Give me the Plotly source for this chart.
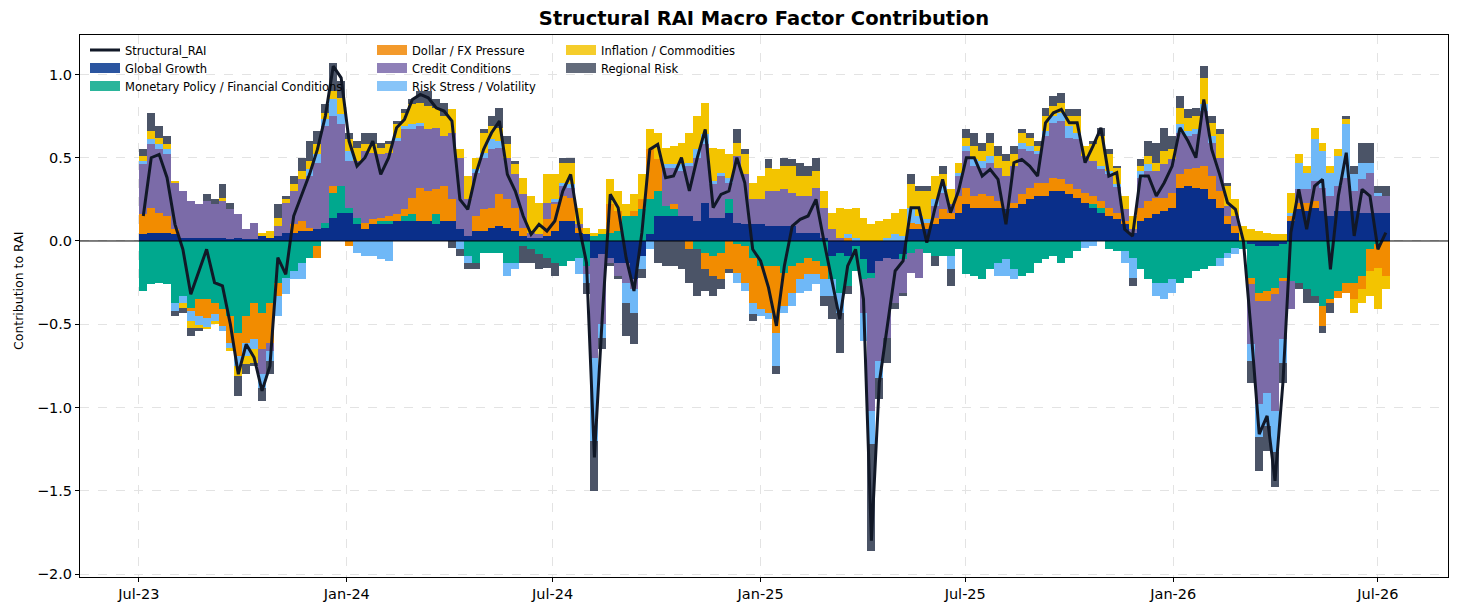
import pandas as pd
import plotly.graph_objects as go

# ---------------- data (weekly) ----------------
dates = pd.date_range("2023-07-05", periods=158, freq="7D")

global_growth = [
    .04,.05,.05,.05,.04,.02,.02,.02,.02,.02,
    .02,.01,.02,.01,.01,.03,.02,.03,.05,.05,
    .06,.06,.07,.08,.14,.17,.17,.10,.07,.10,
    .10,.10,.12,.12,.12,.12,.12,.10,.12,.12,
    .07,.03,.06,.06,.08,.09,.08,.06,.03,.02,
    .02,.03,.06,.12,.12,.05,.04,-.10,-.08,-.10,
    -.13,-.13,-.23,-.09,.04,.15,.15,.15,.15,.15,
    .12,.23,.14,.14,.17,.11,.10,.10,.10,.09,
    .09,.09,.09,.05,.05,.05,.02,-.09,-.07,-.09,
    -.03,-.11,-.19,-.12,-.10,-.11,-.08,.07,.07,.07,
    .10,.13,.13,.17,.22,.20,.20,.20,.20,.19,
    .20,.22,.25,.27,.27,.30,.30,.28,.26,.23,
    .20,.17,.15,.13,.10,.05,.12,.14,.16,.18,
    .20,.32,.33,.32,.31,.25,.20,.10,.05,.00,
    -.02,-.03,-.03,-.03,-.02,.12,.19,.18,.20,.18,
    .15,.18,.18,.18,.17,.17,.17,.17]

monetary_policy = [
    -.30,-.26,-.25,-.26,-.37,-.33,-.40,-.35,-.35,-.37,
    -.41,-.45,-.55,-.45,-.37,-.43,-.37,-.25,-.22,-.18,
    -.13,-.10,-.03,.03,.15,.16,.03,.04,.00,.00,
    .02,.02,.00,.03,.04,.00,.00,.06,.00,.00,
    .00,-.09,-.13,-.07,-.07,-.07,-.13,-.13,-.03,-.05,
    -.08,-.10,-.13,-.15,-.12,-.10,-.15,.03,.04,.05,
    .06,.15,.15,.19,.21,.15,.06,.04,.00,.00,
    -.05,-.07,-.09,-.07,.08,-.02,-.03,-.10,-.15,-.15,
    -.15,-.19,-.15,-.13,-.10,-.12,-.15,-.14,-.24,-.18,
    -.15,-.12,-.03,.00,.00,.00,-.03,-.07,-.05,-.07,
    -.09,-.09,-.09,-.05,-.20,-.21,-.23,-.17,-.13,-.11,
    -.17,-.21,-.19,-.13,-.11,-.09,-.13,-.10,-.06,.00,
    .02,.03,-.05,-.06,-.06,-.10,-.17,-.23,-.25,-.25,
    -.23,-.25,-.22,-.18,-.17,-.15,-.10,-.07,-.04,-.05,
    -.20,-.28,-.27,-.25,-.20,-.24,-.25,-.29,-.33,-.39,
    -.35,-.30,-.25,-.25,-.21,-.05,-.02,.00]

dollar_fx = [
    .12,.15,.12,.10,.03,.00,-.02,-.10,-.11,-.07,
    -.10,-.16,-.14,-.16,-.22,-.22,-.24,-.08,.00,.05,
    .06,.02,-.07,.00,.04,.00,-.03,.00,.04,.03,
    .02,.03,.04,.04,.10,.20,.18,.15,.21,.13,
    .00,.00,.09,.13,.12,.19,.17,.14,.05,.00,
    .00,.10,.16,.15,.14,.03,.00,.00,.00,.17,
    .12,.00,.03,.06,.30,.19,.00,.03,.00,-.05,
    .00,-.10,-.12,-.16,-.17,-.17,-.22,-.27,-.26,-.28,
    -.40,-.20,-.16,-.10,-.10,-.08,-.08,.00,.00,.02,
    .00,.00,.00,.00,.00,.00,.00,.04,.03,.04,
    .04,.06,.04,.10,.10,.07,.08,.07,.04,.00,
    .03,.06,.07,.08,.08,.08,.07,.06,.05,.06,
    .05,.04,.05,.04,.02,.00,.08,.10,.10,.08,
    .09,.08,.10,.12,.14,.14,.10,.05,.04,.00,
    -.04,-.05,-.06,-.04,-.02,.03,.04,.05,.04,-.12,
    -.02,-.04,-.06,-.10,-.08,-.13,-.14,-.21]

credit_conditions = [
    .30,.38,.38,.37,.28,.28,.22,.20,.22,.20,
    .22,.18,.14,.06,.10,-.15,-.05,.06,.18,.20,
    .25,.31,.40,.58,.42,.37,.28,.34,.43,.40,
    .38,.38,.44,.48,.41,.37,.37,.37,.30,.40,
    .43,.22,.26,.31,.35,.28,.25,.20,.20,.03,
    .02,.10,.02,.06,.06,.02,-.05,-.60,-.42,-.03,
    -.08,-.12,-.06,.00,.00,.00,.23,.22,.27,.30,
    .38,.35,.20,.25,.10,.40,.30,.15,.15,.21,
    .21,.22,.20,.22,.22,.27,.18,.07,.02,.00,
    .00,-.20,-.80,-.60,-.48,-.26,-.20,-.12,-.17,.00,
    .07,.10,.05,.12,.22,.18,.16,.20,.20,.20,
    .22,.27,.22,.17,.28,.33,.35,.28,.30,.22,
    .21,.19,.20,.16,.07,.02,.18,.18,.16,.20,
    .20,.25,.20,.20,.33,.20,.20,.06,.06,.00,
    -.36,-.62,-.55,-.70,-.35,-.17,.08,.08,.12,.14,
    .12,.15,.20,.12,.20,.24,.10,.10]

risk_stress = [
    .02,.03,.03,.03,-.05,-.04,-.06,-.06,-.06,-.04,
    -.03,-.03,-.06,-.08,-.06,-.08,-.06,-.12,-.10,-.05,
    -.10,.04,.05,.04,.10,.06,.06,-.07,-.09,-.09,
    -.11,-.12,.02,.02,.03,.02,.00,.00,.00,.00,
    -.05,-.04,.02,.03,.06,.04,-.08,-.04,.00,.00,
    .00,.00,.01,.02,.02,-.10,-.05,-.50,-.08,.00,
    .00,-.12,-.14,-.08,-.05,.00,.02,.02,.04,.02,
    .05,.06,.02,.02,.03,-.06,-.05,-.07,-.04,-.04,
    -.20,-.04,-.08,-.08,-.10,-.06,-.10,-.10,-.12,.02,
    .02,-.17,-.20,-.10,.02,.04,.03,.09,.05,.02,
    .04,.04,-.08,.02,.03,.04,.04,.04,-.08,-.10,
    -.06,.04,.03,.02,.03,.04,.05,.07,.04,-.04,
    -.03,.02,.02,.01,-.07,-.12,.04,.04,-.08,-.10,
    -.08,.05,.03,.03,.04,.04,-.05,-.03,-.04,.00,
    -.10,-.20,-.20,-.25,-.14,.02,.16,.10,.25,.22,
    .14,.18,.32,.10,.10,.06,.02,.00]

inflation = [
    .03,.05,.04,.03,.01,-.03,-.04,-.01,-.01,-.02,
    .02,-.02,-.06,-.05,-.08,.02,.04,.05,.02,.04,
    .05,.05,.06,.04,.05,.10,.07,.08,.04,.05,
    .04,.05,.08,.08,.12,.12,.14,.12,.12,.14,
    .05,.14,.07,.12,.08,.08,.08,.06,.10,.22,
    .19,.17,.15,.12,.13,.10,.04,.02,.03,.15,
    .12,.07,.10,.15,.12,.16,.10,.11,.13,.18,
    .20,.19,.20,.14,.14,.08,.12,.10,.14,.14,
    .13,.14,.16,.12,.12,.10,.10,.10,.18,.15,
    .18,.14,.10,.12,.11,.13,.16,.14,.15,.17,
    .14,.07,.09,.06,.05,.08,.06,.08,.07,.09,
    .07,.06,.05,.03,.09,.06,.06,.06,.10,.06,
    .10,.18,.10,.10,.08,.08,.03,.05,.05,.08,
    .06,.10,.08,.08,.16,.08,.14,.12,.10,.09,
    .07,.06,.05,.04,.04,.12,.05,.04,.07,.05,
    .04,.04,.03,-.08,-.08,-.15,-.25,-.08]

regional_risk = [
    .04,.11,.07,.05,-.03,-.03,-.05,-.02,.04,.03,
    .08,.04,-.12,-.06,-.02,-.08,-.08,.08,.02,.05,
    .08,.12,.08,.05,.17,.10,.04,.04,.07,.07,
    .03,.02,.02,.02,.03,.07,.09,.05,.08,-.04,
    -.04,-.04,-.04,.02,.06,.12,.05,.02,-.10,-.08,
    -.09,-.06,-.08,.03,.03,.00,-.07,-.30,-.07,-.02,
    -.02,-.20,-.19,-.05,.00,-.13,-.15,-.15,-.17,-.20,
    -.28,-.13,-.12,-.06,-.02,.08,.03,-.04,.00,.05,
    -.05,.05,.04,.08,.06,.08,-.06,-.14,-.24,-.05,
    .00,.00,-.64,-.13,-.15,-.04,-.02,.06,.03,.03,
    -.06,.05,-.10,.00,.05,.08,.05,.06,.06,.04,
    .05,.02,.03,.03,.05,.06,.06,.04,.04,.00,
    .02,.05,.03,.01,.00,-.05,.04,.09,.12,.14,
    .08,.07,.05,.05,.07,.04,.03,.02,.00,.00,
    -.13,-.20,-.15,-.21,-.12,.00,-.04,-.08,-.04,-.04,
    -.06,.00,.02,.05,.12,.12,.04,.06]

structural_rai = [
    .15,.50,.52,.38,.10,-.05,-.32,-.18,-.05,-.25,
    -.27,-.50,-.80,-.62,-.70,-.90,-.75,-.10,-.20,.15,
    .28,.40,.55,.75,1.05,.98,.60,.45,.50,.60,
    .40,.50,.68,.73,.85,.88,.86,.80,.78,.72,
    .25,.19,.40,.55,.65,.72,.40,.30,.15,.04,
    .10,.06,.12,.30,.40,.10,-.13,-1.30,-.45,.28,
    .20,-.10,-.30,.05,.55,.58,.38,.39,.50,.30,
    .50,.67,.20,.28,.30,.50,.35,-.05,-.12,-.28,
    -.51,-.15,.09,.13,.15,.25,.00,-.23,-.47,-.15,
    -.05,-.35,-1.80,-.85,-.50,-.18,-.12,.20,.20,-.01,
    .19,.37,.17,.30,.50,.50,.39,.43,.37,.10,
    .47,.49,.45,.39,.71,.77,.79,.71,.71,.47,
    .57,.68,.39,.41,.07,.03,.39,.39,.27,.35,
    .45,.68,.60,.50,.85,.55,.40,.23,.19,.00,
    -.55,-1.16,-1.05,-1.44,-.85,.05,.31,.07,.33,.37,
    -.17,.27,.53,.03,.31,.27,-.05,.05]

factor_names = ["Global Growth", "Monetary Policy / Financial Conditions",
                "Dollar / FX Pressure", "Credit Conditions",
                "Risk Stress / Volatility", "Inflation / Commodities", "Regional Risk"]
factor_values = [global_growth, monetary_policy, dollar_fx, credit_conditions,
                 risk_stress, inflation, regional_risk]
factor_colors = ["#0a2f8a", "#00a88e", "#f28c00", "#7b6ba8",
                 "#6fb8f7", "#f3c400", "#4b5467"]
legend_colors = ["#2b55a0", "#2bb59b", "#f39a2c", "#8f80b8",
                 "#87c4f8", "#f5cd2b", "#636b7b"]

tick_vals = ["2023-07-01", "2024-01-01", "2024-07-01", "2025-01-01",
             "2025-07-01", "2026-01-01", "2026-07-01"]
tick_text = ["Jul-23", "Jan-24", "Jul-24", "Jan-25", "Jul-25", "Jan-26", "Jul-26"]

# ---------------- figure ----------------
FONT = "DejaVu Sans"
fig = go.Figure()

week_ms = 7 * 24 * 3600 * 1000
for name, vals, col in zip(factor_names, factor_values, factor_colors):
    fig.add_trace(go.Bar(
        x=dates, y=vals, name=name, width=week_ms,
        marker=dict(color=col, line=dict(width=0)),
        showlegend=False,
    ))

fig.add_trace(go.Scatter(
    x=dates, y=structural_rai, name="Structural_RAI", mode="lines",
    line=dict(color="#111827", width=3), legend="legend",
))

# legend entries (one legend box per entry, laid out like a 3-column legend)
col_x = [85, 372, 561]          # pixel left of each legend column
row_top = [35.5, 53.5, 71.5]    # pixel top of each legend row
slots = [(1, 0), (2, 0), (0, 1), (1, 1), (2, 1), (0, 2), (1, 2)]
leg_layout = {}
leg_common = dict(bgcolor="rgba(0,0,0,0)", borderwidth=0,
                  font=dict(family=FONT, size=11.5, color="#000"),
                  orientation="v", xanchor="left", yanchor="top")
leg_layout["legend"] = dict(x=(col_x[0] - 80) / 1368, y=1 - (row_top[0] - 35) / 542, **leg_common)
for k, (name, col, (r, c)) in enumerate(zip(factor_names, legend_colors, slots)):
    lg = "legend%d" % (k + 2)
    fig.add_trace(go.Scatter(
        x=[None], y=[None], name=name, mode="lines",
        line=dict(color=col, width=10), legend=lg, showlegend=True,
    ))
    leg_layout[lg] = dict(x=(col_x[c] - 80) / 1368, y=1 - (row_top[r] - 35) / 542, **leg_common)

fig.update_layout(
    barmode="relative",
    bargap=0,
    width=1459, height=614,
    margin=dict(l=80, r=11, t=35, b=37),
    paper_bgcolor="white", plot_bgcolor="white",
    font=dict(family=FONT, size=14.5, color="#000"),
    title=dict(text="<b>Structural RAI Macro Factor Contribution</b>",
               x=764 / 1459, xanchor="center", y=1 - 18 / 614, yanchor="middle",
               font=dict(family=FONT, size=19.5, color="#000")),
    showlegend=True,
    **leg_layout,
)

fig.update_xaxes(
    type="date", range=["2023-05-10", "2026-09-01"],
    tickvals=tick_vals, ticktext=tick_text,
    showgrid=True, gridcolor="#e3e3e3", griddash="dash", gridwidth=1,
    ticks="outside", ticklen=4, tickcolor="#000", tickwidth=1,
    showline=True, linecolor="#000", linewidth=1, mirror=True,
    tickfont=dict(family=FONT, size=14.5, color="#000"),
    zeroline=False,
)
fig.update_yaxes(
    range=[-2.018, 1.237],
    tickvals=[-2.0, -1.5, -1.0, -0.5, 0.0, 0.5, 1.0], tickformat=".1f",
    showgrid=True, gridcolor="#e3e3e3", griddash="dash", gridwidth=1,
    ticks="outside", ticklen=4, tickcolor="#000", tickwidth=1,
    showline=True, linecolor="#000", linewidth=1, mirror=True,
    tickfont=dict(family=FONT, size=14.5, color="#000"),
    zeroline=False,
)

fig.add_shape(type="line", xref="paper", x0=0, x1=1, yref="y", y0=0, y1=0,
              line=dict(color="#000", width=1), layer="above")

fig.add_annotation(text="Contribution to RAI", textangle=-90,
                   xref="paper", yref="paper", x=(18 - 80) / 1368, y=1 - (291 - 35) / 542,
                   xanchor="center", yanchor="middle", showarrow=False,
                   font=dict(family=FONT, size=12.5, color="#000"))

fig.write_html("out.html")
